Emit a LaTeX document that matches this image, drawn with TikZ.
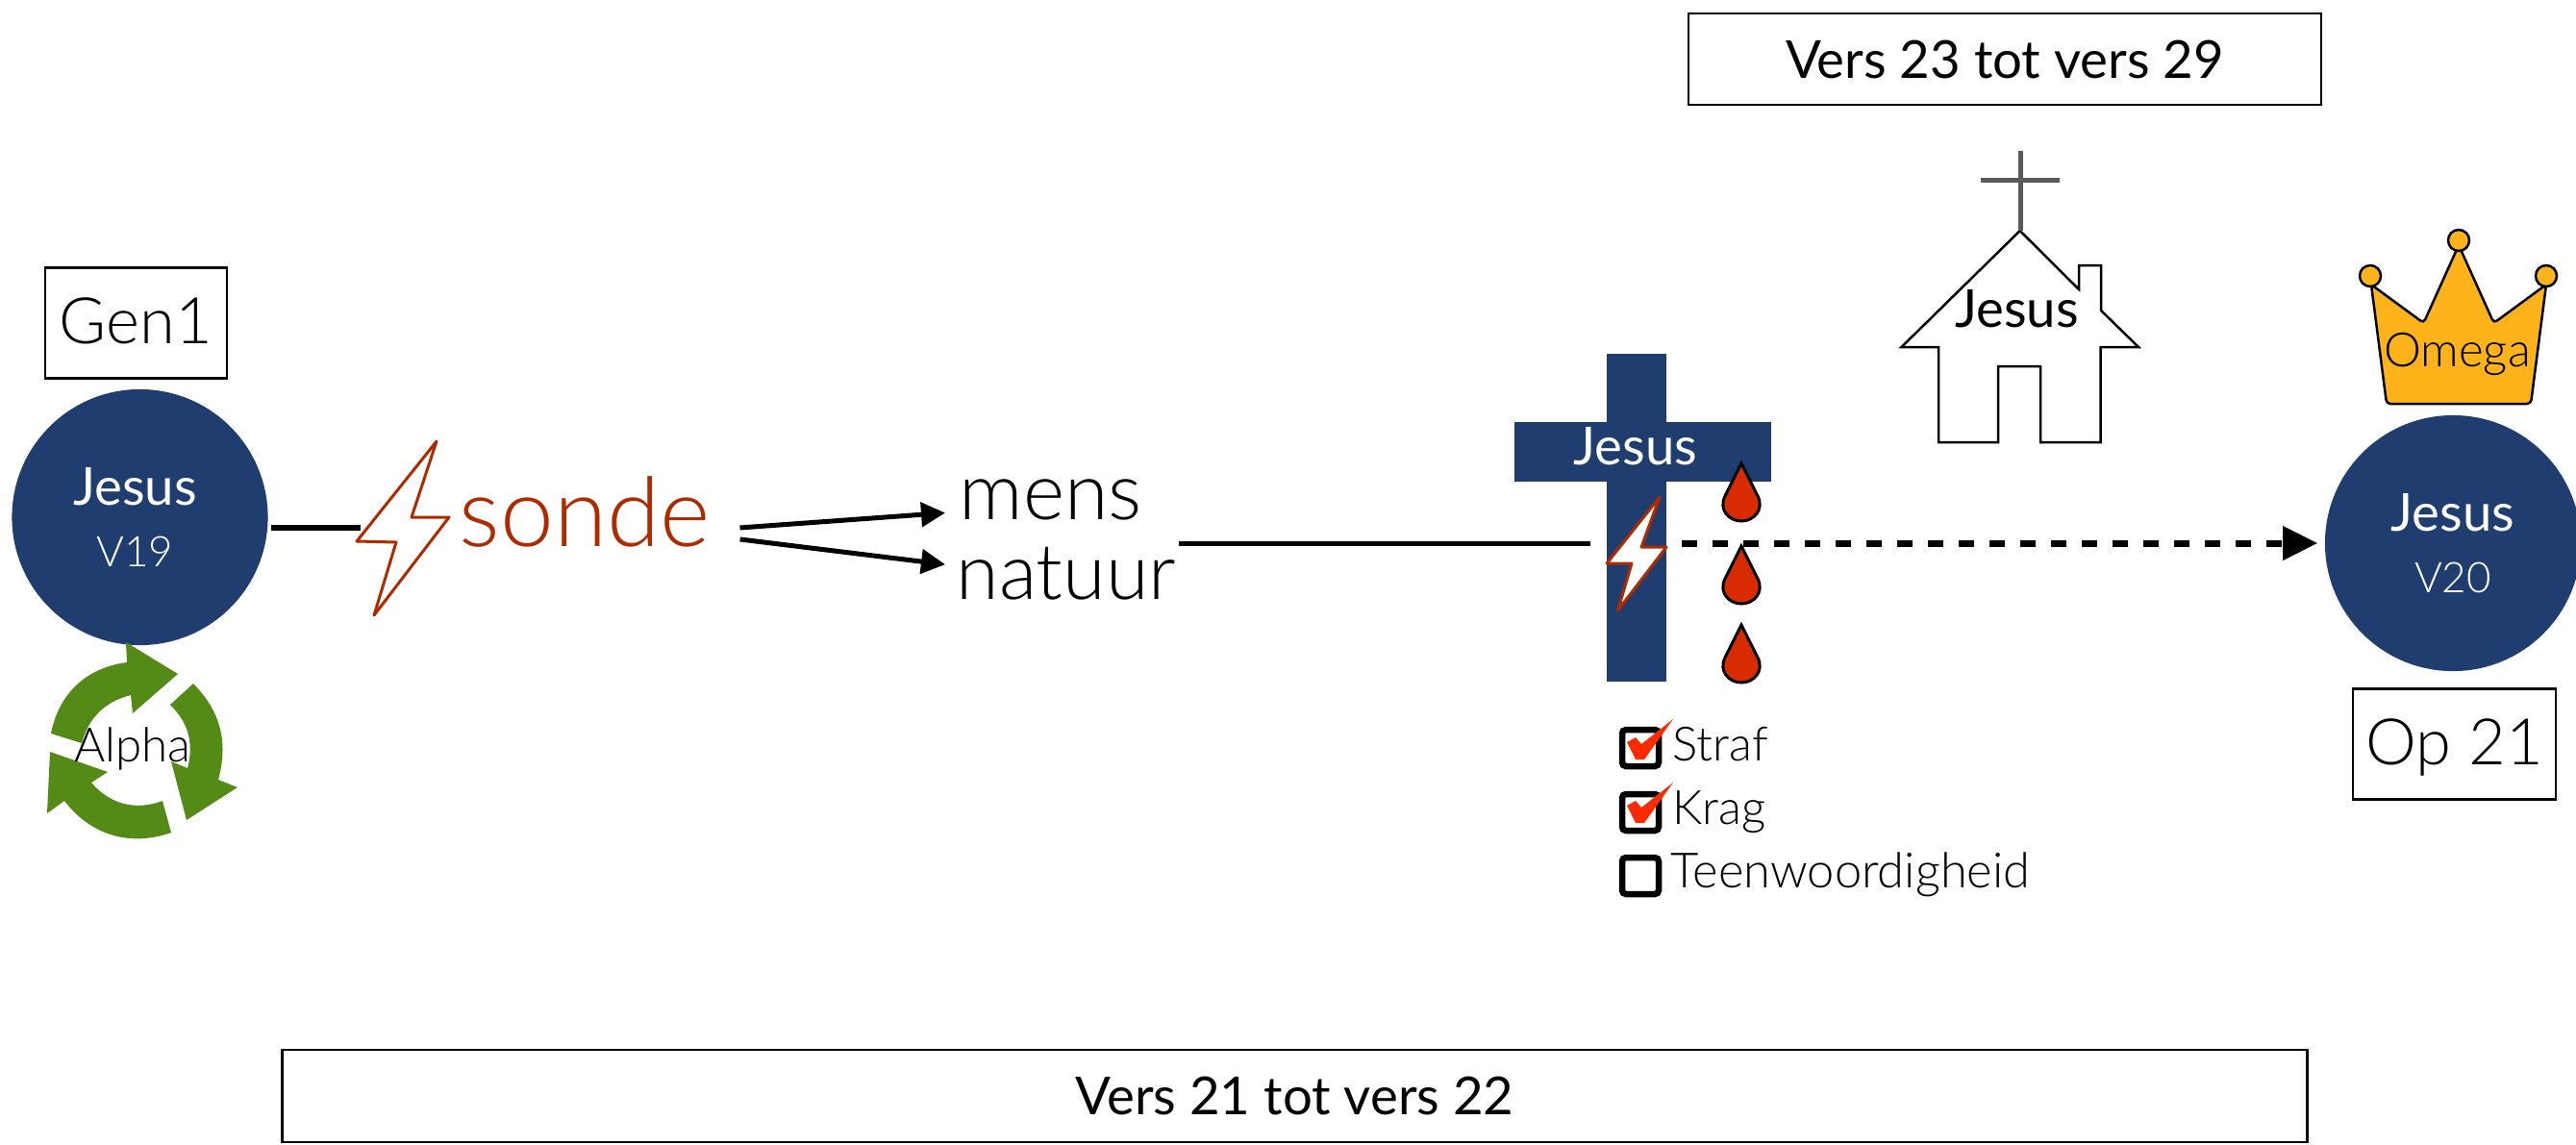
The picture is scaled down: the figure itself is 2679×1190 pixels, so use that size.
\documentclass[tikz,border=0pt]{standalone}
\usepackage{fontspec}
\setmainfont{Lato}[UprightFont={* Light}]
\newfontfamily\bookfont{Lato}
\usepackage{tikz}
\usetikzlibrary{arrows,arrows.meta}
\usetikzlibrary{positioning,calc}
\definecolor{jesusblue}{HTML}{1F3D6F}
\definecolor{sondered}{HTML}{B02A00}
\definecolor{bloodred}{HTML}{D92B00}
\definecolor{recyclegreen}{HTML}{548B17}
\definecolor{crowngold}{HTML}{FFB31A}
\definecolor{checkred}{HTML}{FF2A00}
\definecolor{crossgrey}{HTML}{595959}

\begin{document}
\begin{tikzpicture} [x=0.01cm, y=-0.01cm, every node/.style = {align=center, inner sep=0pt}]
        \tikzstyle{jesuscircle}=[shape=circle, fill=jesusblue, text=white, minimum size=2.66cm, font=\bookfont\fontsize{15.5}{18}\selectfont]
        \tikzstyle{refbox}=[draw, line width=0.025cm, minimum height=1.15cm, text height=0.42cm, text depth=0cm, font=\fontsize{19}{22}\selectfont]
        \tikzstyle{versbox}=[draw, line width=0.025cm, font=\bookfont\fontsize{15.5}{17}\selectfont]
        \tikzstyle{bigword}=[anchor=base west, font=\fontsize{23.5}{28}\selectfont]
        \tikzstyle{smallword}=[anchor=base west, font=\fontsize{14}{16}\selectfont]
        \tikzstyle{midword}=[anchor=base, font=\bookfont\fontsize{15.5}{17}\selectfont]
        \tikzstyle{bolt}=[draw=sondered, line width=0.03cm, line join=round]
        \tikzstyle{drop}=[draw=black, fill=bloodred, line width=0.03cm]
        \tikzstyle{recycle}=[fill=recyclegreen]
        \tikzstyle{tickbox}=[draw=black, line width=0.065cm, rounded corners=0.04cm, minimum size=0.38cm]
        \tikzstyle{tick}=[fill=checkred]
        \useasboundingbox (0,0) rectangle (2679,1190);

        % the two circles
        \node[jesuscircle] (jesusalpha) at (145.5,538) {Jesus\hspace*{0.1cm}\\[0.01cm]{\rmfamily\fontsize{12.5}{15}\selectfont V19\hspace*{0.1cm}}};
        \node[jesuscircle] (jesusomega) at (2551,565) {Jesus\\[0.01cm]{\rmfamily\fontsize{12.5}{15}\selectfont V20}};
        \node[refbox, minimum width=1.89cm] (gen) at (141.5,336) {Gen1};
        \node[refbox, minimum width=2.11cm] (op) at (2552.5,774) {Op 21};
        \node[versbox, minimum width=6.58cm, minimum height=0.95cm] (versboven) at (2085,61.5) {Vers 23 tot vers 29};
        \node[versbox, minimum width=21.05cm, minimum height=0.96cm] (versonder) at (1346.5,1140) {Vers 21 tot vers 22};

        % recycle arrows round Alpha
        \fill[recycle] (53,763) -- (85,773) to[bend left=30] (136,723) -- (138,742) -- (185,701) -- (131,668) -- (132,689) to[bend right=36] (53,763) -- cycle;
        \fill[recycle] (201,711) -- (177,733) to[bend left=30] (195,799) -- (178,792) -- (194,853) -- (247,819) -- (227,811) to[bend right=30] (201,711) -- cycle;
        \fill[recycle] (178,866) -- (169,833) to[bend left=35] (95,814) -- (112,803) -- (52,782) -- (49,846) -- (67,833) to[bend right=36] (178,866) -- cycle;
        \node[smallword, anchor=base] (alpha) at (138,792) {Alpha};

        % sonde
        \draw[bolt] (454,459) -- (428,538) -- (467,538) -- (389,640) -- (412,564) -- (371,563) -- cycle;
        \coordinate (boltlinks) at (375,549);
        \node[bigword, text=sondered, font=\fontsize{28.5}{32}\selectfont] (sonde) at (477,568) {sonde};
        \node[bigword] (mens) at (997,540) {mens};
        \node[bigword, font=\fontsize{23}{28}\selectfont] (natuur) at (994,623) {natuur};

        % cross with bolt and drops
        \fill[jesusblue] (1671,368) rectangle (1733,709);
        \fill[jesusblue] (1575,439) rectangle (1842,501);
        \node[midword, text=white] (jesuskruis) at (1701,483.5) {Jesus};
        \draw[bolt, fill=white] (1726,517) -- (1707,569) -- (1733,569) -- (1682.5,635) -- (1697,586) -- (1671,586) -- cycle;
        \coordinate (kruislinks) at (1654,565);
        \coordinate (kruisregs) at (1749,565);
        \foreach \y in {482,568,650}
            \draw[drop, shift={(1811,\y)}] (0,0) -- (-17,34) .. controls (-24,48) and (-13,60) .. (0,60) .. controls (13,60) and (24,48) .. (17,34) -- cycle;

        % the connectors
        \draw[line width=0.06cm] (jesusalpha.east |- boltlinks) ++(3,0) -- (boltlinks);
        \draw[-{Triangle[length=0.25cm, width=0.25cm]}, line width=0.05cm] ([xshift=0.3cm, yshift=-0.17cm]sonde.east) -- ([xshift=-0.14cm, yshift=-0.14cm]mens.west);
        \draw[-{Triangle[length=0.25cm, width=0.25cm]}, line width=0.05cm] ([xshift=0.3cm, yshift=-0.29cm]sonde.east) -- ([xshift=-0.11cm, yshift=0.09cm]natuur.west);
        \draw[line width=0.05cm] (natuur.east |- kruislinks) ++(2,0) -- (kruislinks);
        \draw[-{Triangle[length=0.36cm, width=0.34cm]}, line width=0.07cm, dash pattern=on 0.16cm off 0.16cm] (kruisregs) -- ([xshift=-0.07cm]jesusomega.west);

        % church
        \draw[line width=0.025cm] (2100.7,240) -- (2162,301) -- (2162,276) -- (2185,276) -- (2185,323) -- (2224,361) -- (2184.6,361) -- (2184.6,460) -- (2122,460) -- (2122,381) -- (2078,381) -- (2078,460) -- (2016,460) -- (2016,361) -- (1977.5,361) -- cycle;
        \draw[crossgrey, line width=0.05cm] (2101,157) -- (2101,240) (2060,187) -- (2142,187);
        \node[midword] (jesuskerk) at (2097.5,340) {Jesus};

        % crown
        \draw[fill=crowngold, line width=0.025cm, rounded corners=0.04cm] (2466,296) -- (2520.5,336) -- (2557,255) -- (2593.5,336) -- (2648,296) -- (2632,420) -- (2482,420) -- cycle;
        \foreach \x/\y in {2465/287,2557/250,2648/287}
            \draw[fill=crowngold, line width=0.025cm] (\x,\y) circle (11);
        \node[smallword, anchor=base] (omega) at (2555.5,381) {Omega};

        % the list
        \node[tickbox] (boxstraf) at (1706,778) {};
        \node[tickbox] (boxkrag) at (1706,845) {};
        \node[tickbox] (boxteen) at (1706,911) {};
        \foreach \y in {0,66}
            \fill[tick, shift={(0,\y)}] (1692,772) -- (1701,767) -- (1707,774) -- (1740,748) -- (1710,790) -- (1701,790) -- cycle;
        \node[smallword] (straf) at (1739,791) {Straf};
        \node[smallword] (krag) at (1739,857) {Krag};
        \node[smallword, font=\fontsize{14.4}{16}\selectfont] (teen) at (1737,923.5) {Teenwoordigheid};
    \end{tikzpicture}
\end{document}
